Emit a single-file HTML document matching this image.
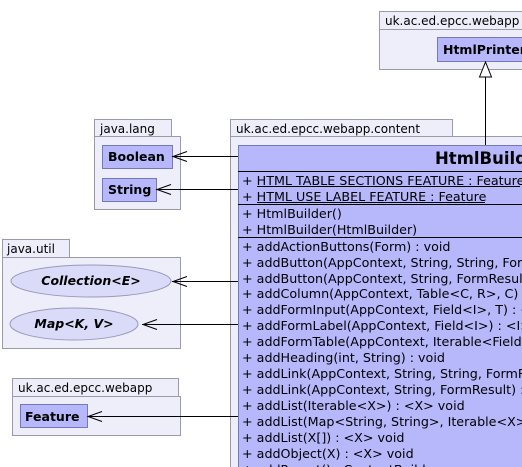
<!DOCTYPE html>
<html><head><meta charset="utf-8"><style>
html,body{margin:0;padding:0;background:#fff;width:522px;height:467px;overflow:hidden}
svg text{font-family:"DejaVu Sans","Liberation Sans",sans-serif}
</style></head><body>
<svg width="522" height="467" xmlns="http://www.w3.org/2000/svg">
<g stroke="#9a9aaa" stroke-width="1" fill="#eeeefb">
<rect x="379.5" y="11.5" width="150" height="18"/>
<rect x="379.5" y="29.5" width="150" height="40"/>
<rect x="94.5" y="119.5" width="77" height="17"/>
<rect x="94.5" y="136.5" width="86" height="73"/>
<rect x="230.5" y="119.5" width="222" height="17"/>
<rect x="230.5" y="136.5" width="300" height="340"/>
<rect x="2.5" y="239.5" width="67" height="18"/>
<rect x="2.5" y="257.5" width="178" height="91"/>
<rect x="12.5" y="378.5" width="166" height="18"/>
<rect x="12.5" y="396.5" width="168" height="39"/>
</g>
<g font-size="12" fill="#000">
<text x="385" y="25">uk.ac.ed.epcc.webapp</text>
<text x="100" y="133">java.lang</text>
<text x="236" y="133">uk.ac.ed.epcc.webapp.content</text>
<text x="7" y="253">java.util</text>
<text x="18" y="392">uk.ac.ed.epcc.webapp</text>
</g>
<g stroke="#7777bb" fill="#b7b7fb">
<rect x="437.5" y="37.5" width="100" height="24"/>
<rect x="102.5" y="145.5" width="70" height="23"/>
<rect x="102.5" y="178.5" width="54" height="23"/>
<rect x="20.5" y="404.5" width="67" height="23"/>
<rect x="238.5" y="145.5" width="300" height="330"/>
</g>
<g stroke="#9999bb" fill="#dadaf9">
<ellipse cx="91" cy="281" rx="80" ry="16"/>
<ellipse cx="74" cy="324" rx="64" ry="16"/>
</g>
<g font-size="12.5" font-weight="bold" fill="#000">
<text x="443" y="54">HtmlPrinter</text>
<text x="108" y="161">Boolean</text>
<text x="108" y="194">String</text>
<text x="25" y="421">Feature</text>
<text x="91" y="285" text-anchor="middle" font-style="italic">Collection&lt;E&gt;</text>
<text x="74" y="328" text-anchor="middle" font-style="italic">Map&lt;K, V&gt;</text>
<text x="435" y="164" font-size="16.5">HtmlBuilder</text>
</g>
<g stroke="#000" stroke-width="1" fill="none">
<line x1="238" y1="171.5" x2="522" y2="171.5"/>
<line x1="238" y1="204.5" x2="522" y2="204.5"/>
<line x1="238" y1="237.5" x2="522" y2="237.5"/>
<line x1="485.5" y1="77" x2="485.5" y2="145"/>
<polygon points="485.5,62 479.5,77 491.5,77" fill="#fff"/>
<line x1="172" y1="156.5" x2="238" y2="156.5"/>
<polyline points="187,151.5 173,156.5 187,161.5"/>
<line x1="156" y1="189.5" x2="238" y2="189.5"/>
<polyline points="171,184.5 157,189.5 171,194.5"/>
<line x1="172" y1="281.5" x2="238" y2="281.5"/>
<polyline points="187,276.5 173,281.5 187,286.5"/>
<line x1="142" y1="324.5" x2="238" y2="324.5"/>
<polyline points="157,319.5 143,324.5 157,329.5"/>
<line x1="88" y1="416.5" x2="238" y2="416.5"/>
<polyline points="102,411.5 88,416.5 102,421.5"/>
<line x1="257" y1="186.5" x2="520" y2="186.5"/>
<line x1="257" y1="202.5" x2="485" y2="202.5"/>
</g>
<g font-size="12.7" fill="#000">
<text x="242" y="185">+  HTML TABLE SECTIONS FEATURE : Feature</text>
<text x="242" y="201">+  HTML USE LABEL FEATURE : Feature</text>
<text x="242" y="218">+  HtmlBuilder()</text>
<text x="242" y="234">+  HtmlBuilder(HtmlBuilder)</text>
<text x="242" y="251">+  addActionButtons(Form) : void</text>
<text x="242" y="267">+  addButton(AppContext, String, String, FormResult) : void</text>
<text x="242" y="283">+  addButton(AppContext, String, FormResult) : void</text>
<text x="242" y="298">+  addColumn(AppContext, Table&lt;C, R&gt;, C) : void</text>
<text x="242" y="314">+  addFormInput(AppContext, Field&lt;I&gt;, T) : &lt;I, T&gt; void</text>
<text x="242" y="330">+  addFormLabel(AppContext, Field&lt;I&gt;) : &lt;I&gt; void</text>
<text x="242" y="346">+  addFormTable(AppContext, Iterable&lt;Field&gt;) : void</text>
<text x="242" y="362">+  addHeading(int, String) : void</text>
<text x="242" y="378">+  addLink(AppContext, String, String, FormResult) : void</text>
<text x="242" y="394">+  addLink(AppContext, String, FormResult) : void</text>
<text x="242" y="410">+  addList(Iterable&lt;X&gt;) : &lt;X&gt; void</text>
<text x="242" y="426">+  addList(Map&lt;String, String&gt;, Iterable&lt;X&gt;) : void</text>
<text x="242" y="442">+  addList(X[]) : &lt;X&gt; void</text>
<text x="242" y="458">+  addObject(X) : &lt;X&gt; void</text>
<text x="242" y="474">+  addParent() : ContentBuilder</text>
</g>
</svg>
</body></html>
